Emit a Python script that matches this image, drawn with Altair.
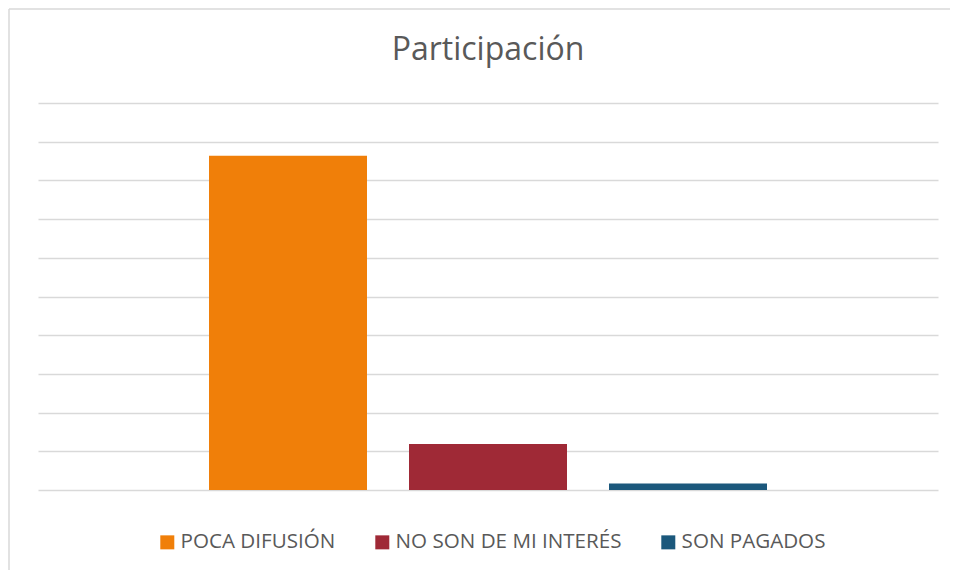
import altair as alt
import pandas as pd

categories = ["POCA DIFUSIÓN", "NO SON DE MI INTERÉS", "SON PAGADOS"]
values = [86.4, 11.9, 1.7]
colors = ["#F07F09", "#9F2936", "#1B587C"]
grid_ticks = [0, 10, 20, 30, 40, 50, 60, 70, 80, 90, 100]
title_text = "Participación"

df = pd.DataFrame({"categoria": categories, "valor": values})

FONT = "Open Sans"
TEXT = "#595959"
GRID = "#d9d9d9"

bars = alt.Chart(df).mark_bar().encode(
    x=alt.X(
        "categoria:N",
        sort=categories,
        scale=alt.Scale(paddingInner=0.21, paddingOuter=0.855),
        axis=None,
    ),
    y=alt.Y(
        "valor:Q",
        scale=alt.Scale(domain=[0, 100], nice=False, zero=True),
        axis=alt.Axis(
            values=grid_ticks,
            labels=False,
            ticks=False,
            domain=False,
            grid=True,
            gridColor=GRID,
            gridWidth=1.5,
            title=None,
        ),
    ),
    color=alt.Color(
        "categoria:N",
        sort=categories,
        scale=alt.Scale(domain=categories, range=colors),
        legend=alt.Legend(
            title=None,
            orient="none",
            legendX=119,
            legendY=429,
            direction="horizontal",
            symbolType="square",
            symbolSize=196,
            symbolStrokeWidth=0,
            labelFont=FONT,
            labelFontSize=20.6,
            labelColor=TEXT,
            labelOffset=3,
            columnPadding=36,
            padding=0,
            labelLimit=400,
        ),
    ),
)

single = alt.Data(values=[{}])
frame = alt.Chart(single).mark_rule(color=GRID, strokeWidth=1.5)
left_border = frame.encode(x=alt.value(-29), y=alt.value(-94), y2=alt.value(470))
top_border = frame.encode(y=alt.value(-94), x=alt.value(-29), x2=alt.value(920))

title = alt.Chart(single).mark_text(
    text=title_text,
    font=FONT,
    fontSize=32,
    color=TEXT,
    align="center",
    baseline="alphabetic",
).encode(x=alt.value(450), y=alt.value(-43))

chart = alt.layer(bars, left_border, top_border, title).properties(
    width=900,
    height=387,
    autosize=alt.AutoSizeParams(type="none"),
    padding={"left": 30, "top": 95, "right": 12, "bottom": 80},
    background="white",
).configure_view(stroke=None)

chart.save("out.html", embed_options={"renderer": "svg", "actions": False})
